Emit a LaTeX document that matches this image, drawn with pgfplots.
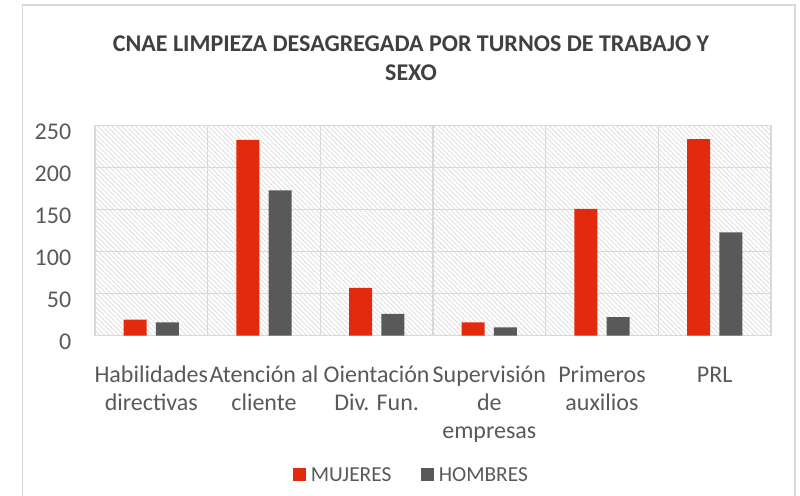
\documentclass[border=0pt]{standalone}
\usepackage{fontspec}
\setmainfont{Carlito}
\usepackage{pgfplots}
\pgfplotsset{compat=1.18}
\usetikzlibrary{patterns.meta}

\definecolor{rojo}{HTML}{E32A0C}
\definecolor{gris}{HTML}{595959}
\definecolor{rejilla}{HTML}{D9D9D9}
\definecolor{titulo}{HTML}{404040}

\begin{document}
\begin{tikzpicture}
\useasboundingbox (0,0) rectangle (400pt,247.5pt);
% marco exterior
\draw[rejilla, line width=0.65pt] (11.35pt,-5pt) rectangle (397.5pt,245pt);
% titulo
\node[anchor=base, inner sep=0pt, text=titulo, font=\fontsize{12}{14.5}\selectfont\bfseries]
  at (205.5pt,221.65pt) {CNAE LIMPIEZA DESAGREGADA POR TURNOS DE TRABAJO Y};
\node[anchor=base, inner sep=0pt, text=titulo, font=\fontsize{12}{14.5}\selectfont\bfseries]
  at (205.5pt,207.15pt) {SEXO};

\begin{axis}[
    at={(47.5pt,79.65pt)}, anchor=south west,
    width=338pt, height=105pt, scale only axis,
    ybar=4.65pt, bar width=11.5pt,
    xmin=-0.5, xmax=5.5, ymin=0, ymax=250,
    ytick={0,50,...,250},
    xtick={0,...,5},
    xticklabels={{\strut Habilidades\\directivas},{\strut Atención al\\cliente},{\strut Oientación\\Div. Fun.},{\strut Supervisión\\de\\empresas},{\strut Primeros\\auxilios},{\strut PRL}},
    minor xtick={-0.5,0.5,...,5.5},
    xminorgrids, ymajorgrids,
    major tick length=0pt, minor tick length=0pt,
    grid style={rejilla, line width=0.65pt},
    minor grid style={rejilla, line width=0.65pt},
    axis line style={rejilla, line width=0.65pt},
    axis background/.style={pattern={Lines[angle=-45,distance=1.7pt,line width=0.45pt]}, pattern color=black!12},
    /pgf/number format/assume math mode=true,
    tick label style={font=\fontsize{12}{14.2}\selectfont, text=gris},
    yticklabel style={anchor=east, inner sep=0pt, xshift=-11.7pt, yshift=-2.9pt},
    xticklabel style={anchor=north, inner sep=0pt, align=center, yshift=-13.1pt},
    legend style={at={(0.467,-0.668)}, anchor=center, draw=none, fill=none,
        legend columns=-1, font=\fontsize{10.7}{12}\selectfont, text=gris,
        inner sep=0pt, nodes={inner sep=0pt},
        /tikz/every odd column/.append style={column sep=2.4pt},
        /tikz/every even column/.append style={column sep=15pt}},
    legend image code/.code={\fill[#1] (0pt,-2.5pt) rectangle (6.3pt,3.8pt);},
]
\addplot[fill=rojo, draw=none] coordinates {(0,19) (1,233) (2,57) (3,16) (4,151) (5,234)};
\addplot[fill=gris, draw=none] coordinates {(0,16) (1,173) (2,26) (3,10) (4,22) (5,123)};
\legend{MUJERES, HOMBRES}
\end{axis}
\end{tikzpicture}
\end{document}
